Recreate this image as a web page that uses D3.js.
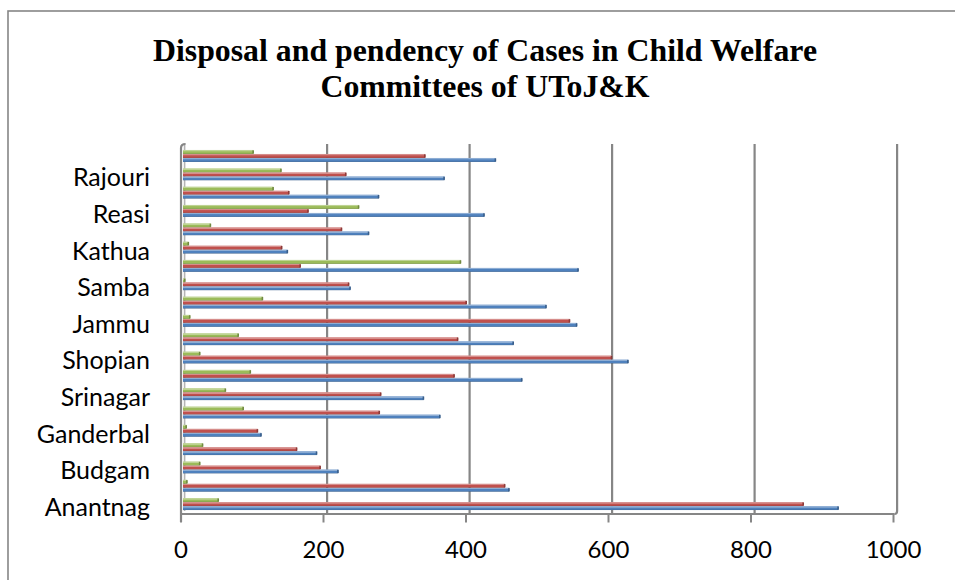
<!DOCTYPE html>
<html>
<head>
<meta charset="utf-8">
<script src="https://cdn.jsdelivr.net/npm/d3@7"></script>
<style>
  html, body { margin: 0; padding: 0; background: #fff; }
  svg { display: block; }
</style>
</head>
<body>
<svg id="chart" width="955" height="580"></svg>
<script>
// ---- data (bottom to top, as in the chart) ----
const categories = ["Anantnag","Kulgam","Budgam","Baramulla","Ganderbal","Kupwara","Srinagar","Bandipora","Shopian","Pulwama","Jammu","Udhampur","Samba","Kishtwar","Kathua","Doda","Reasi","Ramban","Rajouri","Poonch"];
const seriesNames = ["Series 1","Series 2","Series 3"];
const series1 = [920,458,218,188,110,361,338,476,625,464,553,510,235,555,147,261,423,275,367,439];
const series2 = [871,452,193,160,105,276,278,381,602,386,543,398,233,165,139,223,176,149,229,340];
const series3 = [50,6,24,28,5,85,60,95,24,78,10,112,3,390,8,39,247,127,138,99];
const xTicks = [0,200,400,600,800,1000];
const titleLines = ["Disposal and pendency of Cases in Child Welfare","Committees of UToJ&K"];

const colors = ["#4F81BD","#C0504D","#9BBB59"];
const seriesValues = [series1, series2, series3];

const svg = d3.select("#chart");
const defs = svg.append("defs");

// chart frame
svg.append("rect").attr("x",8).attr("y",11).attr("width",980).attr("height",600)
  .attr("fill","#fff").attr("stroke","#868686").attr("stroke-width",1.6);

// title
const title = svg.append("text").attr("text-anchor","middle")
  .attr("font-family","'Liberation Serif','Times New Roman',serif")
  .attr("font-weight","bold").attr("font-size",31.8).attr("fill","#000");
titleLines.forEach((t,i)=> title.append("tspan").attr("x",485).attr("y",61 + i*36).text(t));

// scales
const x = d3.scaleLinear().domain([0,1000]).range([183,895.5]);
const y = d3.scaleBand().domain(categories.slice().reverse()).range([146.8,513.2])
  .paddingInner(0.345).paddingOuter(0.1725);
const ys = d3.scaleBand().domain([2,1,0]).range([0,y.bandwidth()]);

const backDx = 1.6, frontDx = -2;
const gridTop = 144, backBottom = 511, floorY = 514;
const gridColor = "#868686";

// back wall gridlines
svg.append("g").selectAll("line").data(xTicks.slice(1)).join("line")
  .attr("x1",d=>x(d)+backDx).attr("x2",d=>x(d)+backDx)
  .attr("y1",gridTop).attr("y2",d=> d===1000 ? backBottom : floorY)
  .attr("stroke",gridColor).attr("stroke-width",2.2);

// right wall corner to floor
svg.append("path")
  .attr("d",`M${x(1000)+backDx},${backBottom} Q${x(1000)+backDx},${floorY} ${x(1000)-1},${floorY}`)
  .attr("fill","none").attr("stroke",gridColor).attr("stroke-width",2.2);

// floor front edge
svg.append("line").attr("x1",x(0)+frontDx).attr("x2",x(1000)-1)
  .attr("y1",floorY).attr("y2",floorY).attr("stroke",gridColor).attr("stroke-width",2.2);

// left wall
svg.append("line").attr("x1",x(0)+backDx).attr("x2",x(0)+backDx)
  .attr("y1",gridTop+1).attr("y2",backBottom).attr("stroke","#b4b4b4").attr("stroke-width",1.6);
svg.append("path")
  .attr("d",`M${x(0)+frontDx},${522} L${x(0)+frontDx},${gridTop+4} Q${x(0)+frontDx},${gridTop} ${x(0)+backDx+1},${gridTop}`)
  .attr("fill","none").attr("stroke",gridColor).attr("stroke-width",2.2);

// front ticks
svg.append("g").selectAll("line").data(xTicks).join("line")
  .attr("x1",d=>x(d)+frontDx).attr("x2",d=>x(d)+frontDx)
  .attr("y1",floorY).attr("y2",522.5)
  .attr("stroke",gridColor).attr("stroke-width",2);

// gradients for 3D bar look
colors.forEach((c,i)=>{
  const base = d3.color(c);
  const light = d3.interpolateRgb(c,"#fff")(0.35);
  const dark = base.darker(0.8).formatHex();
  const g = defs.append("linearGradient").attr("id","g"+i)
    .attr("x1",0).attr("y1",0).attr("x2",0).attr("y2",1);
  g.append("stop").attr("offset","0%").attr("stop-color",light);
  g.append("stop").attr("offset","35%").attr("stop-color",light);
  g.append("stop").attr("offset","40%").attr("stop-color",c);
  g.append("stop").attr("offset","78%").attr("stop-color",c);
  g.append("stop").attr("offset","100%").attr("stop-color",dark);
});

// bars
const barsG = svg.append("g");
seriesValues.forEach((vals,si)=>{
  const g = barsG.append("g");
  const bh = ys.bandwidth();
  g.selectAll("rect.bar").data(vals.map((v,i)=>({v,c:categories[i]}))).join("rect")
    .attr("class","bar")
    .attr("x",x(0)).attr("y",d=>y(d.c)+ys(si))
    .attr("width",d=>Math.max(0.8,x(d.v)-x(0))).attr("height",bh)
    .attr("fill",`url(#g${si})`);
  g.selectAll("rect.cap").data(vals.map((v,i)=>({v,c:categories[i]}))).join("rect")
    .attr("class","cap")
    .attr("x",d=>x(d.v)-1.2).attr("y",d=>y(d.c)+ys(si)+0.4)
    .attr("width",1.6).attr("height",bh-0.8)
    .attr("fill",d3.color(colors[si]).darker(0.9).formatHex());
});

// category labels (every other)
svg.append("g").selectAll("text").data(categories.filter((c,i)=>i%2===0)).join("text")
  .attr("x",150).attr("y",d=>y(d)+y.bandwidth()/2+12)
  .attr("text-anchor","end")
  .attr("font-family","Lato, 'Open Sans', sans-serif").attr("font-size",25).attr("fill","#000")
  .text(d=>d);

// x tick labels
svg.append("g").selectAll("text").data(xTicks).join("text")
  .attr("x",d=>x(d)+frontDx).attr("y",558)
  .attr("text-anchor","middle")
  .attr("font-family","Lato, 'Open Sans', sans-serif").attr("font-size",24).attr("fill","#000")
  .text(d=>d);
</script>
</body>
</html>
